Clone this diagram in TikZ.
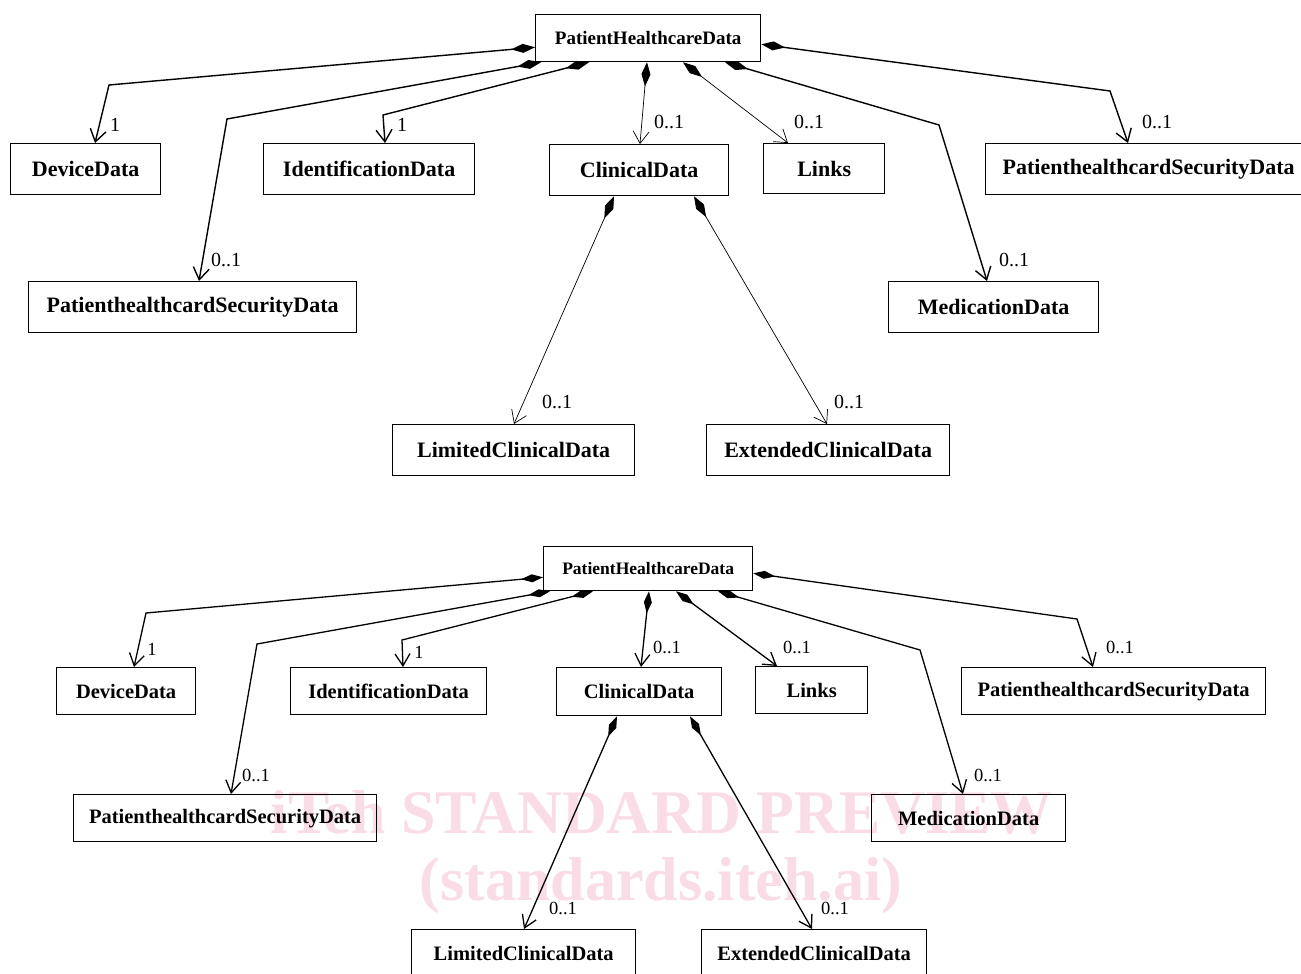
\documentclass[tikz,border=0pt]{standalone}
\usepackage{fontspec}
\setmainfont{Liberation Serif}
\usetikzlibrary{arrows.meta,calc}
\definecolor{wm}{RGB}{250,220,231}
\tikzset{
  cls/.style={draw, line width=1.3pt, anchor=north west, inner sep=0pt, align=center},
  clsA/.style={cls, font=\fontsize{22}{24}\selectfont\bfseries},
  clsB/.style={cls, font=\fontsize{20.5}{22}\selectfont\bfseries},
  titA/.style={cls, font=\fontsize{19}{21}\selectfont\bfseries},
  titB/.style={cls, font=\fontsize{17.5}{19}\selectfont\bfseries},
  multA/.style={font=\fontsize{20}{22}\selectfont, inner sep=0pt},
  multB/.style={font=\fontsize{18.5}{20}\selectfont, inner sep=0pt},
  assoc/.style={line width=1.4pt, line join=miter,
    {Diamond[length=24pt,width=9pt]}-{Straight Barb[length=12pt,width=16pt,line width=1.4pt]}},
  assocthin/.style={line width=0.7pt, line join=miter,
    {Diamond[length=24pt,width=9pt]}-{Straight Barb[length=12pt,width=16pt,line width=0.7pt]}},
  assocB/.style={line width=1.3pt, line join=miter,
    {Diamond[length=22pt,width=8pt]}-{Straight Barb[length=12pt,width=15pt,line width=1.3pt]}},
  wmark/.style={text=wm, font=\fontsize{62}{64}\selectfont\bfseries, inner sep=0pt}
}
\begin{document}
\begin{tikzpicture}[x=1pt,y=-1pt]
\useasboundingbox (0,0) rectangle (1301,974);
\fill[white] (0,0) rectangle (1301,974);
\clip (0,0) rectangle (1301,974);

% watermark
\node[wmark] (wm1) at (662,812) {iTeh STANDARD PREVIEW};
\node[wmark] (wm2) at (661,886) {(standards.iteh.ai)};

% ===== top diagram =====
\node[titA, minimum width=225, minimum height=47] (phdA) at (535,14) {PatientHealthcareData};
\node[clsA, minimum width=150, minimum height=51] (devA) at (10,143) {DeviceData};
\node[clsA, minimum width=211, minimum height=51] (idA) at (263,143) {IdentificationData};
\node[clsA, minimum width=179, minimum height=51] (clinA) at (549,144) {ClinicalData};
\node[clsA, minimum width=121, minimum height=50] (linksA) at (763,143) {Links};
\node[clsA, minimum width=326, minimum height=51] (secRA) at (985,143) {PatienthealthcardSecurityData};
\node[clsA, minimum width=328, minimum height=51] (secLA) at (28,281) {PatienthealthcardSecurityData};
\node[clsA, minimum width=210, minimum height=51] (medA) at (888,281) {MedicationData};
\node[clsA, minimum width=242, minimum height=51] (limA) at (392,424) {LimitedClinicalData};
\node[clsA, minimum width=243, minimum height=51] (extA) at (706,424) {ExtendedClinicalData};

\draw[assoc] ($(phdA.south west)+(0,-15)$) -- (109,85) -- ($(devA.north west)+(85,0)$);
\draw[assoc] ($(phdA.south west)+(6,0)$) -- (227,119) -- ($(secLA.north west)+(171,0)$);
\draw[assoc] ($(phdA.south west)+(54,0)$) -- (383,115) -- ($(idA.north west)+(122,0)$);
\draw[assocthin] ($(phdA.south west)+(112,0)$) -- ($(clinA.north west)+(91,0)$);
\draw[assocthin] ($(phdA.south west)+(148,0)$) -- ($(linksA.north west)+(25,0)$);
\draw[assoc] ($(phdA.south west)+(190,0)$) -- (939,125) -- ($(medA.north west)+(99,0)$);
\draw[assoc] ($(phdA.south east)+(0,-18)$) -- (1110,91) -- ($(secRA.north west)+(143,0)$);
\draw[assocthin] ($(clinA.south west)+(65,0)$) -- ($(limA.north west)+(122,0)$);
\draw[assocthin] ($(clinA.south west)+(145,0)$) -- ($(extA.north west)+(121,0)$);

\node[multA] (mA1) at (115,125) {1};
\node[multA] (mA2) at (226,260) {0..1};
\node[multA] (mA3) at (402,125) {1};
\node[multA] (mA4) at (669,122) {0..1};
\node[multA] (mA5) at (809,122) {0..1};
\node[multA] (mA6) at (1157,122) {0..1};
\node[multA] (mA7) at (1014,260) {0..1};
\node[multA] (mA8) at (557,402) {0..1};
\node[multA] (mA9) at (849,402) {0..1};

% ===== bottom diagram =====
\node[titB, minimum width=209, minimum height=44] (phdB) at (543,546) {PatientHealthcareData};
\node[clsB, minimum width=139, minimum height=47] (devB) at (56,667) {DeviceData};
\node[clsB, minimum width=196, minimum height=47] (idB) at (290,667) {IdentificationData};
\node[clsB, minimum width=165, minimum height=48] (clinB) at (556,667) {ClinicalData};
\node[clsB, minimum width=112, minimum height=47] (linksB) at (755,666) {Links};
\node[clsB, minimum width=304, minimum height=47] (secRB) at (961,667) {PatienthealthcardSecurityData};
\node[clsB, minimum width=303, minimum height=47] (secLB) at (73,794) {PatienthealthcardSecurityData};
\node[clsB, minimum width=194, minimum height=47] (medB) at (871,794) {MedicationData};
\node[clsB, minimum width=224, minimum height=47] (limB) at (411,929) {LimitedClinicalData};
\node[clsB, minimum width=225, minimum height=47] (extB) at (701,929) {ExtendedClinicalData};

\draw[assocB] ($(phdB.south west)+(0,-14)$) -- (146,613) -- ($(devB.north west)+(78,0)$);
\draw[assocB] ($(phdB.south west)+(7,0)$) -- (257,644) -- ($(secLB.north west)+(158,0)$);
\draw[assocB] ($(phdB.south west)+(50,0)$) -- (402,640) -- ($(idB.north west)+(113,0)$);
\draw[assocB] ($(phdB.south west)+(106,0)$) -- ($(clinB.north west)+(85,0)$);
\draw[assocB] ($(phdB.south west)+(133,0)$) -- ($(linksB.north west)+(22,0)$);
\draw[assocB] ($(phdB.south west)+(175,0)$) -- (920,650) -- ($(medB.north west)+(92,0)$);
\draw[assocB] ($(phdB.south east)+(0,-18)$) -- (1077,619) -- ($(secRB.north west)+(132,0)$);
\draw[assocB] ($(clinB.south west)+(61,0)$) -- ($(limB.north west)+(113,0)$);
\draw[assocB] ($(clinB.south west)+(134,0)$) -- ($(extB.north west)+(111,0)$);

\node[multB] (mB1) at (152,649) {1};
\node[multB] (mB2) at (256,775) {0..1};
\node[multB] (mB3) at (419,652) {1};
\node[multB] (mB4) at (667,647) {0..1};
\node[multB] (mB5) at (797,647) {0..1};
\node[multB] (mB6) at (1120,647) {0..1};
\node[multB] (mB7) at (988,775) {0..1};
\node[multB] (mB8) at (563,908) {0..1};
\node[multB] (mB9) at (835,908) {0..1};
\end{tikzpicture}
\end{document}
